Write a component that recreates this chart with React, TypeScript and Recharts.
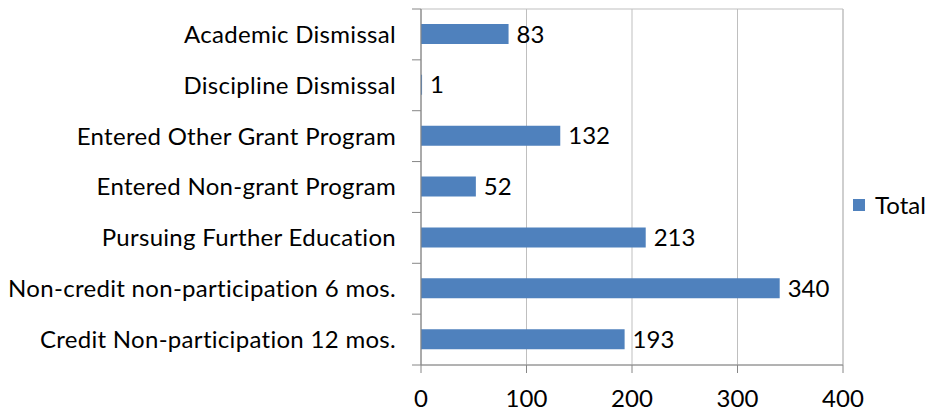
import { Bar, BarChart, XAxis, YAxis, CartesianGrid, LabelList, ReferenceArea } from "recharts";

const categories = [
  "Academic Dismissal",
  "Discipline Dismissal",
  "Entered Other Grant Program",
  "Entered Non-grant Program",
  "Pursuing Further Education",
  "Non-credit non-participation 6 mos.",
  "Credit Non-participation 12 mos.",
];
const totals = [83, 1, 132, 52, 213, 340, 193];
const xTicks = [0, 100, 200, 300, 400];
const seriesName = "Total";

const data = categories.map((name, i) => ({ name, total: totals[i] }));

const FONT = "Lato, 'Open Sans', sans-serif";
const AXIS = "#868686";
const GRID = "#BFBFBF";
const BLUE = "#4F81BD";

const CHART_H = 411;
const TOP = 9;
const BOTTOM = 46;
const BAND = (CHART_H - TOP - BOTTOM) / categories.length;

function CategoryTick(props: any) {
  const { x, y, payload, index } = props;
  return (
    <g>
      {index === 0 && <line x1={x + 16} x2={x + 25} y1={y - BAND / 2} y2={y - BAND / 2} stroke={AXIS} />}
      <line x1={x + 16} x2={x + 25} y1={y + BAND / 2} y2={y + BAND / 2} stroke={AXIS} />
      <text x={x} y={y} dy="0.35em" textAnchor="end" fill="#000" fontSize={24} letterSpacing={0.3} fontFamily={FONT}>
        {payload.value}
      </text>
    </g>
  );
}

export default function App() {
  return (
    <div style={{ position: "absolute", left: 0, top: 0, width: 931, height: 411, background: "#fff" }}>
      <BarChart
        width={931}
        height={CHART_H}
        data={data}
        layout="vertical"
        margin={{ top: TOP, right: 88, bottom: 0, left: 0 }}
        barSize={20}
      >
        <CartesianGrid horizontal={false} stroke={GRID} />
        <ReferenceArea x1={0} x2={400} fill="none" stroke={GRID} strokeWidth={1} />
        <XAxis
          type="number"
          domain={[0, 400]}
          ticks={xTicks}
          height={BOTTOM}
          stroke={AXIS}
          tickSize={8}
          tickMargin={17}
          tick={{ fill: "#000", fontSize: 24, fontFamily: FONT }}
        />
        <YAxis
          type="category"
          dataKey="name"
          width={421}
          stroke={AXIS}
          tickLine={false}
          tickSize={9}
          tickMargin={16}
          tick={<CategoryTick />}
        />
        <Bar dataKey="total" name={seriesName} fill={BLUE} isAnimationActive={false}>
          <LabelList dataKey="total" position="right" offset={8} fill="#000" fontSize={24} fontFamily={FONT} />
        </Bar>
      </BarChart>
      <div
        style={{
          position: "absolute",
          left: 853,
          top: 190,
          display: "flex",
          alignItems: "center",
          fontFamily: FONT,
          fontSize: 24,
          color: "#000",
        }}
      >
        <span style={{ display: "inline-block", width: 12, height: 12, background: BLUE, marginRight: 10 }} />
        <span>{seriesName}</span>
      </div>
    </div>
  );
}
